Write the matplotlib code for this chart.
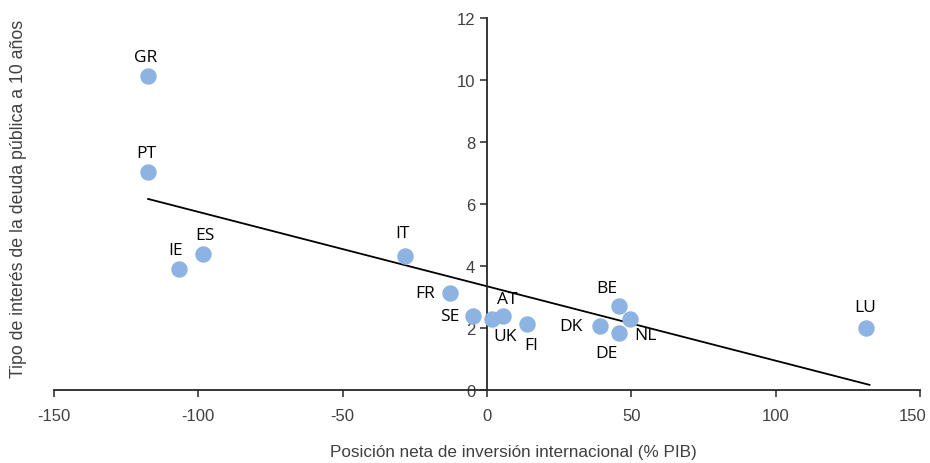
import numpy as np
import matplotlib.pyplot as plt
import matplotlib.transforms as mtransforms

plt.rcParams['axes.unicode_minus'] = False

# Posición neta de inversión internacional (% PIB) vs tipo a 10 años
countries = ['GR', 'PT', 'IE', 'ES', 'IT', 'FR', 'SE', 'UK', 'AT', 'FI', 'DK', 'DE', 'BE', 'NL', 'LU']
niip = [-117.4, -117.4, -106.7, -98.4, -28.4, -12.8, -5.0, 1.9, 5.7, 13.9, 39.0, 45.6, 45.8, 49.6, 131.2]
yield10 = [10.13, 7.03, 3.90, 4.39, 4.32, 3.13, 2.40, 2.29, 2.40, 2.13, 2.05, 1.84, 2.71, 2.28, 2.00]

# label offsets (pixels) relative to each point
offsets = {'GR': (-2, 19), 'PT': (-2, 19), 'IE': (-3, 19), 'ES': (2, 19), 'IT': (-3, 23),
           'FR': (-25, 0), 'SE': (-23, 0), 'UK': (13, -17), 'AT': (4, 17), 'FI': (4, -21),
           'DK': (-29, 0), 'DE': (-12, -20), 'BE': (-12, 18), 'NL': (15, -16), 'LU': (-1, 21)}

slope, intercept = -0.024, 3.3456

fig = plt.figure(figsize=(9.3, 4.64), dpi=100)
ax = fig.add_axes([54/930, 1-391/464, 866/930, 372/464])

ax.scatter(niip, yield10, s=140, color='#8DB3E2', zorder=3, linewidths=0)

xs = np.array([min(niip), 132.5])
ax.plot(xs, slope*xs + intercept, color='black', lw=1.3, zorder=2)

for c, x, y in zip(countries, niip, yield10):
    dx, dy = offsets[c]
    ax.annotate(c, (x, y), xytext=(dx, dy), textcoords='offset pixels',
                ha='center', va='center', fontsize=12.5, color='black', family='Open Sans')

ax.set_xlim(-150, 150)
ax.set_ylim(0, 12)
ax.set_xticks(range(-150, 151, 50))
ax.set_yticks(range(0, 13, 2))

ax.spines['left'].set_position(('data', 0))
ax.spines['bottom'].set_position(('data', 0))
ax.spines['right'].set_visible(False)
ax.spines['top'].set_visible(False)
for sp in ['left', 'bottom']:
    ax.spines[sp].set_color('#262626')
    ax.spines[sp].set_linewidth(1.3)
ax.tick_params(axis='both', direction='out', length=5, width=1.1, color='#262626',
               labelsize=12, labelcolor='#404040')
ax.tick_params(axis='x', pad=8)
for lbl in ax.get_xticklabels() + ax.get_yticklabels():
    lbl.set_family('Liberation Sans')
    lbl.set_fontsize(12)
# keep the last x label inside the figure
last = ax.get_xticklabels()[-1]
last.set_transform(last.get_transform() + mtransforms.ScaledTranslation(-7/100, 0, fig.dpi_scale_trans))

ax.text(820, 7.72, 'y = -0,024x  + 3,3456\nR² = 0,5897', ha='center', va='center',
        fontsize=10.5, color='#404040', linespacing=1.1, family='Liberation Sans')

fig.text(513/930, 1-453/464, 'Posición neta de inversión internacional (% PIB)', ha='center', va='center',
         fontsize=12.3, color='#404040', family='Liberation Sans')
fig.text(19/930, 1-199/464, 'Tipo de interés de la deuda pública a 10 años', ha='center', va='center',
         rotation=90, fontsize=12.8, color='#404040', family='Liberation Sans')

fig.savefig('out.png', dpi=100)
